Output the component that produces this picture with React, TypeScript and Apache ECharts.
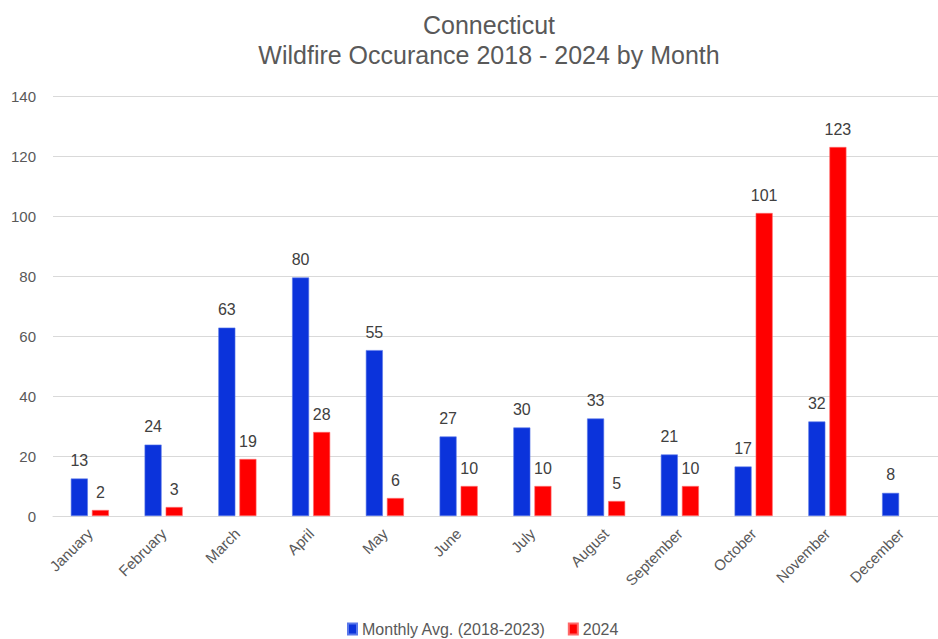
import React, { useEffect, useRef } from "react";
import * as echarts from "echarts";

const months = ["January", "February", "March", "April", "May", "June", "July", "August", "September", "October", "November", "December"];
const monthlyAvg = [12.5, 23.8, 62.8, 79.5, 55.3, 26.5, 29.5, 32.5, 20.5, 16.5, 31.5, 7.7];
const year2024: (number | null)[] = [2, 3, 19, 28, 6, 10, 10, 5, 10, 101, 123, null];
const seriesNames = ["Monthly Avg. (2018-2023)", "2024"];
const titleLines = ["Connecticut", "Wildfire Occurance 2018 - 2024 by Month"];

const FONT = "'Liberation Sans', Arial, sans-serif";

export default function App() {
  const ref = useRef<HTMLDivElement>(null);
  useEffect(() => {
    if (!ref.current) return;
    const chart = echarts.init(ref.current, undefined, { renderer: "svg" });
    const label = {
      show: true,
      position: "top",
      distance: 10,
      fontSize: 16,
      color: "#404040",
      fontFamily: FONT,
      formatter: (p: any) => String(Math.round(p.value)),
    };
    chart.setOption({
      animation: false,
      backgroundColor: "#ffffff",
      title: {
        text: titleLines.join("\n"),
        left: 484,
        textAlign: "center",
        top: 5,
        textStyle: { fontSize: 25, fontWeight: "normal", color: "#595959", fontFamily: FONT, lineHeight: 30 },
      },
      legend: {
        top: 621,
        left: 347,
        padding: 0,
        itemWidth: 9,
        itemHeight: 11,
        itemGap: 22,
        icon: "rect",
        textStyle: { fontSize: 16, color: "#595959", fontFamily: FONT },
        data: seriesNames,
      },
      grid: { left: 53, top: 96, width: 897, height: 420, containLabel: false },
      xAxis: {
        type: "category",
        data: months,
        axisLine: { lineStyle: { color: "#d9d9d9" } },
        axisTick: { show: false },
        axisLabel: { interval: 0, rotate: 45, fontSize: 15, color: "#595959", fontFamily: FONT, margin: 15 },
      },
      yAxis: {
        type: "value",
        min: 0,
        max: 140,
        interval: 20,
        axisLine: { show: false },
        axisTick: { show: false },
        splitLine: { lineStyle: { color: "#d9d9d9", width: 1 } },
        axisLabel: { fontSize: 15, color: "#595959", fontFamily: FONT, margin: 17 },
      },
      series: [
        {
          name: seriesNames[0],
          type: "bar",
          data: monthlyAvg,
          barWidth: 17,
          barGap: "24%",
          itemStyle: { color: "#0B33DB", borderColor: "#5a78ea", borderWidth: 0.6 },
          label,
        },
        {
          name: seriesNames[1],
          type: "bar",
          data: year2024,
          barWidth: 17,
          itemStyle: { color: "#FF0000", borderColor: "#ff6a6a", borderWidth: 0.6 },
          label,
        },
      ],
    });
    return () => chart.dispose();
  }, []);
  return <div ref={ref} style={{ position: "absolute", left: 0, top: 0, width: 938, height: 639 }} />;
}
